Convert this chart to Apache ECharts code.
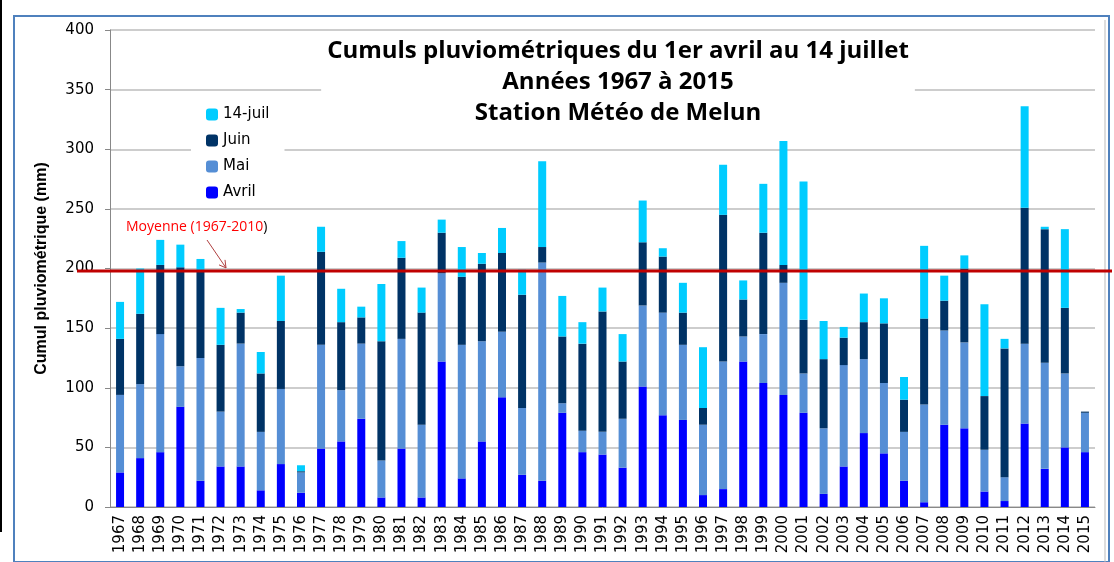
<!DOCTYPE html>
<html>
<head>
<meta charset="utf-8">
<script src="https://cdn.jsdelivr.net/npm/echarts@6/dist/echarts.min.js"></script>
<style>
  html, body { margin: 0; padding: 0; background: #fff; }
  #main { width: 1114px; height: 562px; }
</style>
</head>
<body>
<div id="main"></div>
<script>
var years = [];
for (var y = 1967; y <= 2015; y++) years.push(String(y));

// pluie par periode (mm)
var avril = [29, 41, 46, 84, 22, 34, 34, 14, 36, 12, 49, 55, 74, 8, 49, 8, 122, 24, 55, 92,
  27, 22, 79, 46, 44, 33, 101, 77, 73, 10, 15, 122, 104, 94, 79, 11, 34, 62, 45, 22,
  4, 69, 66, 13, 5, 70, 32, 50, 46];
var mai = [65, 62, 99, 34, 103, 46, 103, 49, 63, 17, 87, 43, 63, 31, 92, 61, 74, 112, 84, 55,
  56, 183, 8, 18, 19, 41, 68, 86, 63, 59, 107, 21, 41, 94, 33, 55, 85, 62, 59, 41,
  82, 79, 72, 35, 20, 67, 89, 62, 33];
var juin = [47, 59, 58, 83, 73, 56, 26, 49, 57, 1, 78, 57, 22, 100, 68, 94, 34, 57, 65, 66,
  95, 13, 56, 73, 101, 48, 53, 47, 27, 14, 123, 31, 85, 15, 45, 58, 23, 31, 50, 27,
  72, 25, 62, 45, 108, 114, 112, 55, 1];
var juil = [31, 38, 21, 19, 10, 31, 3, 18, 38, 5, 21, 28, 9, 48, 14, 21, 11, 25, 9, 21,
  21, 72, 34, 18, 20, 23, 35, 7, 25, 51, 42, 16, 41, 109, 116, 32, 9, 24, 21, 19,
  61, 21, 11, 77, 8, 85, 2, 66, 0];
var moyenne = 198;

var myChart = echarts.init(document.getElementById('main'));

function serie(name, data, color) {
    return {
        name: name,
        type: 'bar',
        stack: 'cumul',
        barWidth: 8,
        data: data,
        itemStyle: { color: color },
        emphasis: { disabled: true }
    };
}

var option = {
    backgroundColor: '#fff',
    animation: false,
    title: {
        text: 'Cumuls pluviométriques du 1er avril au 14 juillet\nAnnées 1967 à 2015\nStation Météo de Melun',
        left: 612,
        top: 33,
        textAlign: 'center',
        backgroundColor: '#fff',
        padding: [3, 6, 12, 6],
        textStyle: {
            fontFamily: 'Open Sans',
            fontWeight: 'bold',
            fontSize: 24,
            lineHeight: 31,
            color: '#000'
        }
    },
    legend: {
        orient: 'vertical',
        left: 191,
        top: 101,
        padding: [6, 15, 6, 15],
        backgroundColor: '#fff',
        itemWidth: 12,
        itemHeight: 12,
        itemGap: 11,
        itemTextGap: 5,
        textStyle: { fontFamily: 'DejaVu Sans', fontSize: 15, color: '#000' },
        data: ['14-juil', 'Juin', 'Mai', 'Avril']
    },
    grid: { left: 110, right: 19, top: 30, bottom: 55, containLabel: false },
    xAxis: {
        type: 'category',
        data: years,
        axisLine: { lineStyle: { color: '#888', width: 1 } },
        axisTick: { interval: 0, length: 5, lineStyle: { color: '#888' } },
        axisLabel: {
            interval: 0,
            rotate: 90,
            margin: 8,
            fontFamily: 'DejaVu Sans',
            fontSize: 15,
            color: '#000'
        }
    },
    yAxis: {
        type: 'value',
        min: 0,
        max: 400,
        interval: 50,
        name: 'Cumul pluviométrique (mm)',
        nameLocation: 'middle',
        nameRotate: 90,
        nameGap: 60,
        nameTextStyle: {
            fontFamily: 'Liberation Sans',
            fontWeight: 'bold',
            fontSize: 16,
            color: '#000'
        },
        axisLine: { show: true, lineStyle: { color: '#888', width: 1 } },
        axisTick: { show: true, length: 5, lineStyle: { color: '#888' } },
        axisLabel: { margin: 16, fontFamily: 'DejaVu Sans', fontSize: 15, color: '#000' },
        splitLine: { lineStyle: { color: '#bdbdbd', width: 1.5 } }
    },
    series: [
        serie('Avril', avril, '#0000ff'),
        serie('Mai', mai, '#558ed5'),
        serie('Juin', juin, '#003366'),
        serie('14-juil', juil, '#00ccff')
    ]
};

myChart.setOption(option);

// ligne de la moyenne, qui deborde du cadre du graphique
var yMoy = myChart.convertToPixel({ yAxisIndex: 0 }, moyenne);
myChart.setOption({
    graphic: [
        { type: 'rect', z: 100, shape: { x: 14, y: 16, width: 1095, height: 546 },
          style: { fill: 'none', stroke: '#4f81bd', lineWidth: 2 } },
        { type: 'line', z: 100, shape: { x1: 1105, y1: 20, x2: 1105, y2: 562 },
          style: { stroke: '#bbbbbb', lineWidth: 1 } },
        { type: 'line', z: 100, shape: { x1: 1, y1: 0, x2: 1, y2: 532 },
          style: { stroke: '#000', lineWidth: 2 } },
        { type: 'line', z: 100, shape: { x1: 77, y1: yMoy, x2: 1112, y2: yMoy },
          style: { stroke: '#c00000', lineWidth: 3 } },
        { type: 'text', z: 100, x: 126, y: 227,
          style: {
              text: '{r|Moyenne (1967-2010}{k|)}',
              verticalAlign: 'middle',
              rich: {
                  r: { fontFamily: 'Open Sans', fontSize: 14, fill: '#ff0000' },
                  k: { fontFamily: 'Open Sans', fontSize: 14, fill: '#000' }
              }
          } },
        { type: 'line', z: 100, shape: { x1: 207, y1: 240, x2: 226, y2: yMoy - 3 },
          style: { stroke: '#b04040', lineWidth: 1 } },
        { type: 'polyline', z: 100,
          shape: { points: [[219, yMoy - 6], [226, yMoy - 3], [225, yMoy - 11]] },
          style: { stroke: '#b04040', lineWidth: 1, fill: 'none' } }
    ]
});
</script>
</body>
</html>
